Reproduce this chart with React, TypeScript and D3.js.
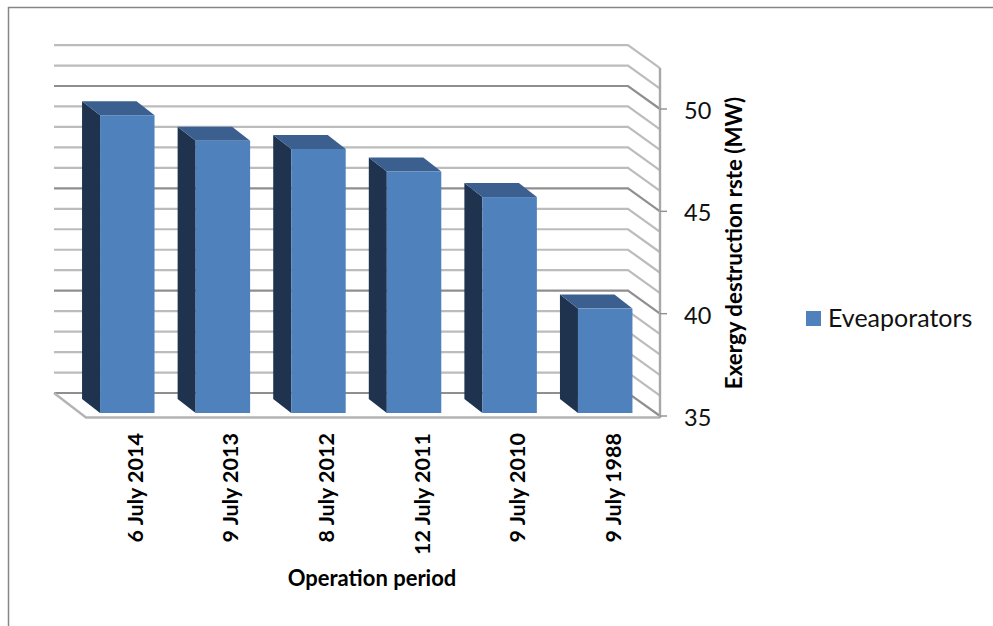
import React from "react";
import * as d3 from "d3";

// Operation periods and the evaporators' exergy destruction rate (MW)
const periods = ["6 July 2014", "9 July 2013", "8 July 2012", "12 July 2011", "9 July 2010", "9 July 1988"];
const destruction = [49.55, 48.3, 47.9, 46.8, 45.55, 40.1];
const axisTicks = [35, 40, 45, 50];
const gridValues = d3.range(35, 53);
const seriesName = "Eveaporators";
const xTitle = "Operation period";
const yTitle = "Exergy destruction rste (MW)";

const WIDTH = 993;
const HEIGHT = 626;
const FONT = "Lato, Carlito, sans-serif";

// Oblique projection: the back wall sits up and left of the front edge of the floor
const WALL_DX = -32;
const WALL_DY = -23;
const BAR_DX = -18;
const BAR_DY = -14;

const front = d3.scaleLinear().domain([35, 50]).range([416, 109]);
const barY = d3.scaleLinear().domain([35, 50]).range([413, 106]);
const barX = d3.scaleBand<string>().domain(periods).range([79.5, 653]).paddingInner(0.43).paddingOuter(0.215);

const FRONT_LEFT = 86;
const FRONT_RIGHT = 660;

const poly = d3.line();

export default function App() {
  const base = barY(35);
  const bw = barX.bandwidth();
  return (
    <svg
      width={WIDTH}
      height={HEIGHT}
      viewBox={`0 0 ${WIDTH} ${HEIGHT}`}
      style={{ position: "absolute", left: 0, top: 0, background: "#fff", fontFamily: FONT }}
    >
      {/* chart area border, open to the right and bottom */}
      <path d={`M8.5 626V7.5H993`} fill="none" stroke="#868686" strokeWidth={1.5} />

      {/* gridlines run along the back wall and fold forward to the axis */}
      {gridValues.map((v) => {
        const y = front(v);
        const major = v % 5 === 0;
        return (
          <path
            key={v}
            d={poly([
              [FRONT_LEFT + WALL_DX, y + WALL_DY],
              [FRONT_RIGHT + WALL_DX, y + WALL_DY],
              [FRONT_RIGHT, y],
            ]) ?? ""}
            fill="none"
            stroke={major ? "#8f8f8f" : "#bcbcbc"}
            strokeWidth={2.2}
          />
        );
      })}

      {/* floor edges */}
      <path
        d={poly([
          [FRONT_LEFT + WALL_DX, front(35) + WALL_DY],
          [FRONT_LEFT, front(35) + 1.5],
          [FRONT_RIGHT, front(35) + 1.5],
        ]) ?? ""}
        fill="none"
        stroke="#b4b4b4"
        strokeWidth={2.4}
      />

      {/* value axis */}
      <line x1={FRONT_RIGHT} x2={FRONT_RIGHT} y1={front(52)} y2={front(35) + 2} stroke="#a8a8a8" strokeWidth={2.4} />
      {axisTicks.map((t) => (
        <g key={t}>
          <line x1={FRONT_RIGHT} x2={FRONT_RIGHT + 7} y1={front(t)} y2={front(t)} stroke="#8f8f8f" strokeWidth={1.4} />
          <text x={684} y={front(t) + 10} fontSize={23.5} fill="#111">
            {t}
          </text>
        </g>
      ))}

      {/* bars: side, top and front faces */}
      {periods.map((p, i) => {
        const x = barX(p) ?? 0;
        const top = barY(destruction[i]);
        return (
          <g key={p}>
            <path
              d={poly([
                [x, top],
                [x + BAR_DX, top + BAR_DY],
                [x + BAR_DX, base + BAR_DY],
                [x, base],
              ]) + "Z"}
              fill="#1f334f"
            />
            <path
              d={poly([
                [x, top],
                [x + BAR_DX, top + BAR_DY],
                [x + bw + BAR_DX, top + BAR_DY],
                [x + bw, top],
              ]) + "Z"}
              fill="#3b608f"
            />
            <rect x={x} y={top} width={bw} height={base - top} fill="#4f81bd" />
          </g>
        );
      })}

      {/* category labels */}
      {periods.map((p) => {
        const cx = (barX(p) ?? 0) + bw / 2;
        return (
          <text
            key={p}
            transform={`translate(${cx + 15.5},433) rotate(-90)`}
            textAnchor="end"
            fontSize={21.5}
            fontWeight={700}
            fill="#000"
          >
            {p}
          </text>
        );
      })}

      <text x={372} y={586} textAnchor="middle" fontSize={22} fontWeight={700} fill="#000">
        {xTitle}
      </text>
      <text
        transform="translate(742,243) rotate(-90)"
        textAnchor="middle"
        fontSize={22.3}
        fontWeight={700}
        fill="#000"
      >
        {yTitle}
      </text>

      {/* legend */}
      <rect x={806} y={311} width={15} height={15} fill="#4f81bd" />
      <text x={828} y={327} fontSize={25} fill="#111">
        {seriesName}
      </text>
    </svg>
  );
}
